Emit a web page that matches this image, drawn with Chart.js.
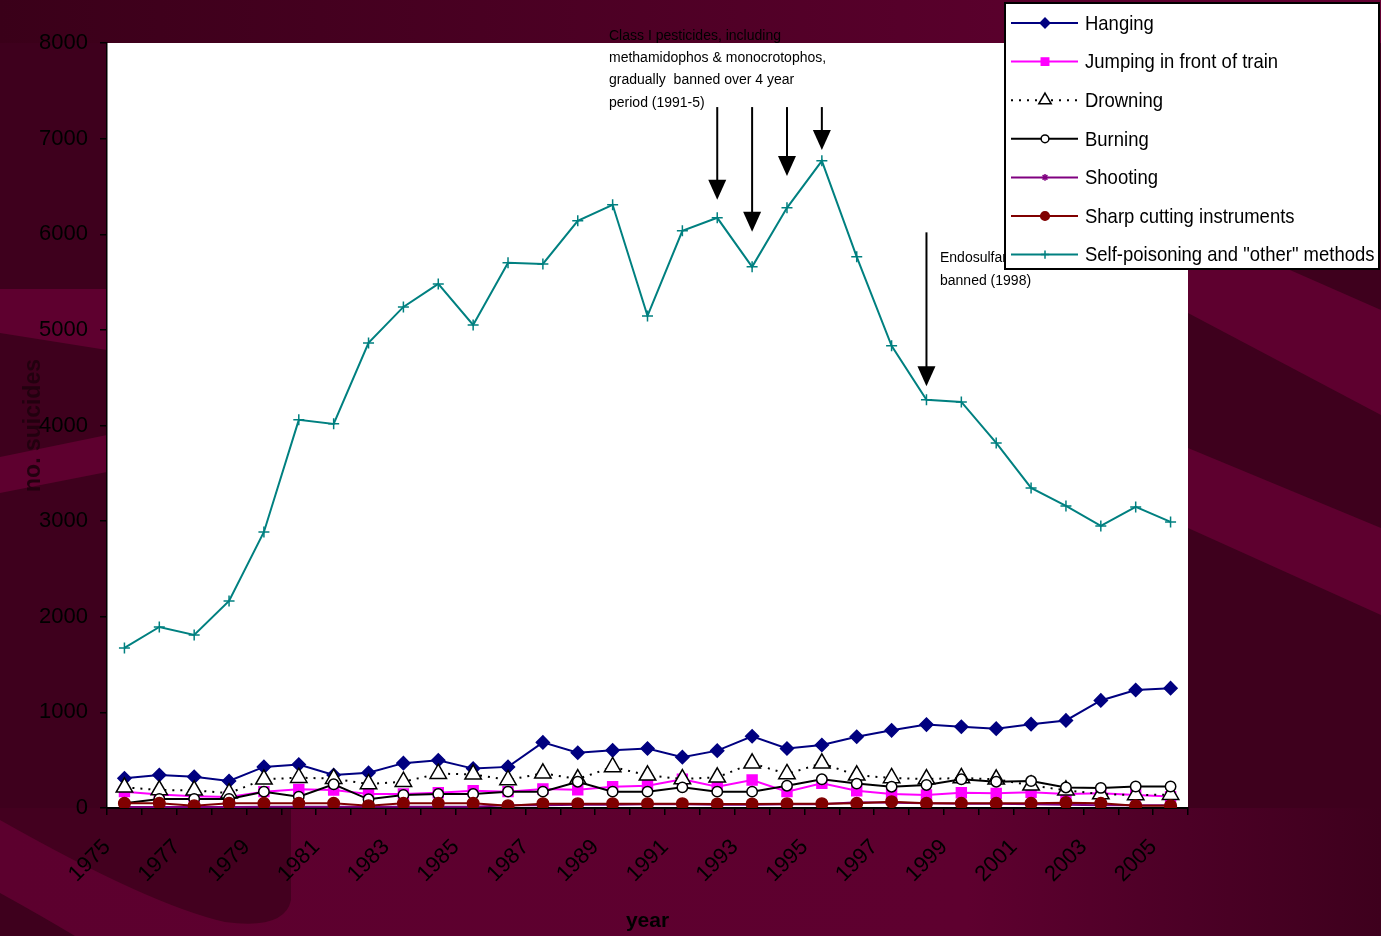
<!DOCTYPE html>
<html lang="en">
<head>
<meta charset="UTF-8">
<title>Suicides by method, 1975-2005</title>
<script src="https://cdn.jsdelivr.net/npm/chart.js"></script>
<style>
  html, body { margin: 0; padding: 0; background: #3e001d; }
  #wrap { width: 1381px; height: 936px; }
</style>
</head>
<body>
<div id="wrap"><canvas id="suicideChart" width="1381" height="936"></canvas></div>

<script>
// data
const years = ['1975','1976','1977','1978','1979','1980','1981','1982','1983','1984','1985',
               '1986','1987','1988','1989','1990','1991','1992','1993','1994','1995',
               '1996','1997','1998','1999','2000','2001','2002','2003','2004','2005'];
const shownYears = ['1975','1977','1979','1981','1983','1985','1987','1989','1991',
                    '1993','1995','1997','1999','2001','2003','2005'];

const hanging  = [310, 345, 326, 282, 430, 455, 345, 368, 469, 500, 412, 430, 686, 578, 603, 622,
                  532, 600, 750, 622, 659, 745, 812, 872, 850, 830, 877, 916, 1125, 1234, 1253];
const jumping  = [171, 140, 122, 115, 171, 195, 188, 146, 146, 160, 181, 171, 199, 190, 223, 233,
                  300, 223, 293, 171, 258, 180, 146, 136, 160, 153, 164, 146, 153, 136, 119];
const drowning = [216, 188, 185, 155, 300, 317, 307, 251, 275, 359, 352, 293, 363, 303, 429, 342,
                  303, 321, 467, 356, 467, 342, 314, 303, 314, 300, 237, 185, 146, 136, 139];
const burning  = [50, 95, 95, 95, 171, 119, 248, 91, 136, 146, 146, 171, 171, 275, 171, 171,
                  216, 171, 171, 233, 300, 255, 223, 241, 300, 275, 282, 215, 210, 225, 225];
const shooting = [10, 10, 10, 10, 12, 12, 12, 12, 12, 12, 12, 30, 30, 35, 35, 40,
                  40, 35, 35, 40, 40, 60, 55, 50, 45, 45, 40, 35, 30, 30, 30];
const sharp    = [49, 49, 24, 49, 49, 49, 49, 24, 49, 49, 49, 24, 45, 45, 45, 45,
                  45, 42, 42, 45, 45, 49, 66, 49, 49, 49, 49, 56, 49, 24, 24];
const selfPoisoning = [1674, 1893, 1810, 2165, 2887, 4059, 4017, 4864, 5240, 5481, 5052, 5701, 5690,
                       6140, 6308, 5146, 6036, 6172, 5659, 6276, 6768, 5764, 4833, 4268, 4247, 3818,
                       3347, 3159, 2950, 3149, 2992];

// arrows: year, top value, tip value
const arrowYears = ['1992', '1993', '1994', '1995', '1998'];
const arrowFrom  = [7330, 7330, 7330, 7330, 6020];
const arrowTo    = [6360, 6025, 6610, 6880, 4410];

const FONT = '"Liberation Sans", Arial, sans-serif';
Chart.defaults.color = '#000';

function poly(ctx, pts, fill) {
    ctx.beginPath();
    ctx.moveTo(pts[0][0], pts[0][1]);
    for (let i = 1; i < pts.length; i++) ctx.lineTo(pts[i][0], pts[i][1]);
    ctx.closePath();
    ctx.fillStyle = fill;
    ctx.fill();
}

// slide-style maroon backdrop + white plot area
const backdrop = {
    id: 'backdrop',
    beforeDraw(chart) {
        const ctx = chart.ctx, a = chart.chartArea;
        const W = chart.width, H = chart.height;
        const dark = '#3e001d', light = '#5e002f';
        ctx.save();
        ctx.fillStyle = dark;
        ctx.fillRect(0, 0, W, H);

        let g = ctx.createLinearGradient(0, 0, W, 0);
        g.addColorStop(0, '#3a0019');
        g.addColorStop(1, '#650033');
        ctx.fillStyle = g;
        ctx.fillRect(0, 0, W, a.top);

        // left strip bands
        poly(ctx, [[0, 289], [a.left, 289], [a.left, 350], [0, 333]], light);
        poly(ctx, [[0, 457], [a.left, 435], [a.left, 472], [0, 493]], light);

        // right strip bands
        poly(ctx, [[a.right, 270], [1290, 270], [W, 310], [W, 415], [a.right, 313]], light);
        poly(ctx, [[a.right, 448], [W, 528], [W, 615], [a.right, 528]], light);

        // bottom area
        g = ctx.createLinearGradient(0, 0, W, 0);
        g.addColorStop(0, '#5c002e');
        g.addColorStop(0.7, '#5e002f');
        g.addColorStop(0.86, '#4c0026');
        g.addColorStop(1, '#3e001d');
        ctx.fillStyle = g;
        ctx.fillRect(0, a.bottom, W, H - a.bottom);
        ctx.beginPath();
        ctx.moveTo(0, a.bottom);
        ctx.lineTo(291, a.bottom);
        ctx.lineTo(291, 900);
        ctx.quadraticCurveTo(285, 930, 225, 922);
        ctx.quadraticCurveTo(150, 905, 0, 820);
        ctx.closePath();
        ctx.fillStyle = '#43001f';
        ctx.fill();
        ctx.beginPath();
        ctx.moveTo(0, 893);
        ctx.quadraticCurveTo(40, 915, 75, H);
        ctx.lineTo(0, H);
        ctx.closePath();
        ctx.fillStyle = dark;
        ctx.fill();

        ctx.fillStyle = '#ffffff';
        ctx.fillRect(a.left, a.top, a.right - a.left, a.bottom - a.top);
        ctx.restore();
    }
};

// notes, arrows and the legend box
const notes = {
    id: 'notes',
    afterDatasetsDraw(chart) {
        const ctx = chart.ctx;
        const xs = chart.scales.x, ys = chart.scales.y;
        ctx.save();

        ctx.fillStyle = '#000';
        ctx.strokeStyle = '#000';
        ctx.font = '14px ' + FONT;
        ctx.textBaseline = 'middle';
        ctx.textAlign = 'left';
        ['Class I pesticides, including', 'methamidophos & monocrotophos,',
         'gradually  banned over 4 year', 'period (1991-5)'].forEach((t, i) => {
            ctx.fillText(t, 609, 36 + i * 22.3);
        });
        ctx.fillText('Endosulfan', 940, 258);
        ctx.fillText('banned (1998)', 940, 281);

        arrowYears.forEach((yr, i) => {
            const x = xs.getPixelForValue(years.indexOf(yr));
            const y0 = ys.getPixelForValue(arrowFrom[i]);
            const y1 = ys.getPixelForValue(arrowTo[i]);
            ctx.lineWidth = 2;
            ctx.beginPath();
            ctx.moveTo(x, y0);
            ctx.lineTo(x, y1 - 16);
            ctx.stroke();
            ctx.beginPath();
            ctx.moveTo(x - 9, y1 - 20);
            ctx.lineTo(x + 9, y1 - 20);
            ctx.lineTo(x, y1);
            ctx.closePath();
            ctx.fill();
        });

        // legend
        const lx = 1004, ly = 2, lw = 376, lh = 268;
        ctx.fillStyle = '#fff';
        ctx.fillRect(lx, ly, lw, lh);
        ctx.lineWidth = 2;
        ctx.strokeStyle = '#000';
        ctx.strokeRect(lx + 1, ly + 1, lw - 2, lh - 2);

        chart.data.datasets.forEach((ds, i) => {
            const cy = ly + 21 + i * 38.6;
            ctx.lineWidth = ds.borderWidth;
            ctx.strokeStyle = ds.borderColor;
            ctx.setLineDash(ds.borderDash || []);
            ctx.beginPath();
            ctx.moveTo(1011, cy);
            ctx.lineTo(1078, cy);
            ctx.stroke();
            ctx.setLineDash([]);
            ctx.fillStyle = ds.pointBackgroundColor;
            ctx.strokeStyle = ds.pointBorderColor;
            ctx.lineWidth = ds.pointBorderWidth;
            Chart.helpers.drawPoint(ctx, {
                pointStyle: ds.pointStyle,
                radius: ds.pointRadius * 0.75,
                borderWidth: ds.pointBorderWidth,
                rotation: 0
            }, 1045, cy);

            ctx.fillStyle = '#000';
            ctx.font = '21px ' + FONT;
            ctx.save();
            ctx.translate(1085, cy + 1);
            ctx.scale(0.88, 1);
            ctx.fillText(ds.label, 0, 0);
            ctx.restore();
        });
        ctx.restore();
    }
};

function series(label, data, color, style, radius, fill, extra) {
    return Object.assign({
        label: label,
        data: data,
        borderColor: color,
        backgroundColor: color,
        borderWidth: 2,
        pointStyle: style,
        pointRadius: radius,
        pointBackgroundColor: fill,
        pointBorderColor: color,
        pointBorderWidth: 1.5,
        tension: 0,
        fill: false
    }, extra || {});
}

const datasets = [
    series('Hanging', hanging, '#000080', 'rectRot', 6.5, '#000080'),
    series('Jumping in front of train', jumping, '#ff00ff', 'rect', 7, '#ff00ff'),
    series('Drowning', drowning, '#000000', 'triangle', 9.5, '#ffffff', { borderDash: [2, 6] }),
    series('Burning', burning, '#000000', 'circle', 5.2, '#ffffff'),
    series('Shooting', shooting, '#800080', 'star', 4.5, '#800080'),
    series('Sharp cutting instruments', sharp, '#800000', 'circle', 5.8, '#800000'),
    series('Self-poisoning and "other" methods', selfPoisoning, '#008080', 'cross', 5.5, '#008080')
];
// later series on top, like the original
datasets.forEach((d, i) => { d.order = datasets.length - i; });

const ctx = document.getElementById('suicideChart').getContext('2d');
const suicideChart = new Chart(ctx, {
    type: 'line',
    data: { labels: years, datasets: datasets },
    options: {
        responsive: false,
        animation: false,
        events: [],
        devicePixelRatio: 1,
        layout: { padding: { top: 43, right: 193, bottom: 0, left: 0 } },
        plugins: {
            legend: { display: false },
            tooltip: { enabled: false }
        },
        scales: {
            x: {
                type: 'category',
                offset: true,
                grid: { offset: true, drawOnChartArea: false, drawTicks: true, tickLength: 7, color: '#000', lineWidth: 1.5 },
                border: { color: '#000', width: 2 },
                ticks: {
                    autoSkip: false,
                    minRotation: 45,
                    maxRotation: 45,
                    padding: 2,
                    color: '#000',
                    font: { family: FONT, size: 22 },
                    callback: function (value) {
                        const y = this.getLabelForValue(value);
                        return shownYears.includes(y) ? y + '    ' : '';
                    }
                },
                title: {
                    display: true,
                    text: 'year',
                    color: '#000',
                    font: { family: FONT, size: 21, weight: 'bold' },
                    padding: { top: 0, bottom: 2 }
                },
                afterFit: s => { s.height = 128; }
            },
            y: {
                min: 0,
                max: 8000,
                grid: { drawOnChartArea: false, drawTicks: true, tickLength: 7, color: '#000', lineWidth: 1.5 },
                border: { color: '#000', width: 1.5 },
                ticks: {
                    stepSize: 1000,
                    padding: 12,
                    color: '#000',
                    font: { family: FONT, size: 22 },
                    callback: v => String(v)
                },
                title: {
                    display: true,
                    text: 'no. suicides',
                    color: '#22000f',
                    font: { family: FONT, size: 23, weight: 'bold' },
                    padding: { top: 20, bottom: 0 }
                },
                afterFit: s => { s.width = 107; }
            }
        }
    },
    plugins: [backdrop, notes]
});
</script>
</body>
</html>
